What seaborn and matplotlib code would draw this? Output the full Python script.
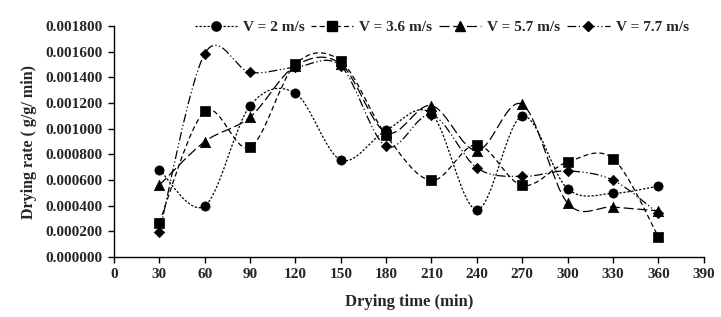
import numpy as np
import pandas as pd
import matplotlib
matplotlib.use("Agg")
import matplotlib.pyplot as plt
from matplotlib.path import Path
from matplotlib.patches import PathPatch
from matplotlib.lines import Line2D
import seaborn as sns

time_min = [30, 60, 90, 120, 150, 180, 210, 240, 270, 300, 330, 360]
v_2 = [0.000682, 0.000398, 0.001178, 0.001276, 0.000757, 0.000987,
       0.001116, 0.000369, 0.001098, 0.000532, 0.000496, 0.000553]
v_3_6 = [0.000269, 0.001134, 0.000855, 0.001503, 0.001526, 0.000948,
         0.000597, 0.000876, 0.000558, 0.000741, 0.000767, 0.000160]
v_5_7 = [0.000560, 0.000899, 0.001090, 0.001490, 0.001505, 0.000970,
         0.001180, 0.000830, 0.001190, 0.000420, 0.000390, 0.000360]
v_7_7 = [0.000194, 0.001583, 0.001439, 0.001478, 0.001488, 0.000863,
         0.001108, 0.000695, 0.000628, 0.000671, 0.000599, 0.000341]
labels = ["V = 2 m/s", "V = 3.6 m/s", "V = 5.7 m/s", "V = 7.7 m/s"]
x_ticks = [0, 30, 60, 90, 120, 150, 180, 210, 240, 270, 300, 330, 360, 390]
y_ticks = [0.0, 0.0002, 0.0004, 0.0006, 0.0008, 0.0010, 0.0012, 0.0014, 0.0016, 0.0018]

series = [v_2, v_3_6, v_5_7, v_7_7]
markers = ["o", "s", "^", "D"]
msizes = [44, 56, 56, 28]
dashes = [(0, (1.8, 1.4)), (0, (4, 2.5)), (0, (8, 3)), (0, (7, 2, 1, 2, 1, 2))]

sns.set_style("white")
plt.rcParams["font.family"] = ["Liberation Serif", "DejaVu Serif"]
plt.rcParams["font.weight"] = "bold"

fig = plt.figure(figsize=(7.21, 3.17), dpi=100)
ax = fig.add_axes([0.158, 0.189, 0.818, 0.729])

def smooth_path(xs, ys):
    p = np.column_stack([xs, ys]).astype(float)
    n = len(p)
    verts = [p[0]]
    codes = [Path.MOVETO]
    for i in range(n - 1):
        pm = p[i - 1] if i > 0 else p[i]
        pn = p[i + 2] if i + 2 < n else p[i + 1]
        c1 = p[i] + (p[i + 1] - pm) / 6.0
        c2 = p[i + 1] - (pn - p[i]) / 6.0
        verts += [c1, c2, p[i + 1]]
        codes += [Path.CURVE4] * 3
    return Path(verts, codes)

df = pd.concat([pd.DataFrame({"time": time_min, "rate": s, "series": lab})
                for s, lab in zip(series, labels)])

for s, lab, mk, ms, ds in zip(series, labels, markers, msizes, dashes):
    patch = PathPatch(smooth_path(time_min, s), facecolor="none", edgecolor="black",
                      linewidth=0.9, linestyle=ds, zorder=2)
    ax.add_patch(patch)
    sub = df[df["series"] == lab]
    sns.scatterplot(data=sub, x="time", y="rate", marker=mk, s=ms, color="black",
                    edgecolor="black", linewidth=0.5, ax=ax, zorder=3, legend=False)

ax.set_xlim(0, 390)
ax.set_ylim(0, 0.0018)
ax.set_xticks(x_ticks)
ax.set_yticks(y_ticks)
ax.set_yticklabels([f"{v:.6f}" for v in y_ticks])
ax.set_xticklabels([str(v) for v in x_ticks])
for sp in ["top", "right"]:
    ax.spines[sp].set_visible(False)
for sp in ["left", "bottom"]:
    ax.spines[sp].set_color("black")
    ax.spines[sp].set_linewidth(1.0)
ax.tick_params(axis="both", direction="out", length=4, width=1.0, color="black",
               labelsize=11, pad=4, left=True, bottom=True)
for t in ax.get_xticklabels() + ax.get_yticklabels():
    t.set_fontweight("bold")
ax.set_xlabel("Drying time (min)", fontsize=12, fontweight="bold", labelpad=9)
ax.set_ylabel("Drying rate ( g/g/ min)", fontsize=11.5, fontweight="bold", labelpad=6)

handles = [Line2D([], [], color="black", linewidth=0.9, linestyle=ds, marker=mk,
                  markersize=np.sqrt(ms), markeredgecolor="black")
           for mk, ms, ds in zip(markers, msizes, dashes)]
leg = ax.legend(handles, labels, loc="upper right", bbox_to_anchor=(0.985, 1.05), ncol=4,
                frameon=False, prop={"weight": "bold", "size": 11}, handlelength=2.75,
                handletextpad=0.4, columnspacing=0.45, borderaxespad=0.0)

fig.savefig("out.png", dpi=100)
